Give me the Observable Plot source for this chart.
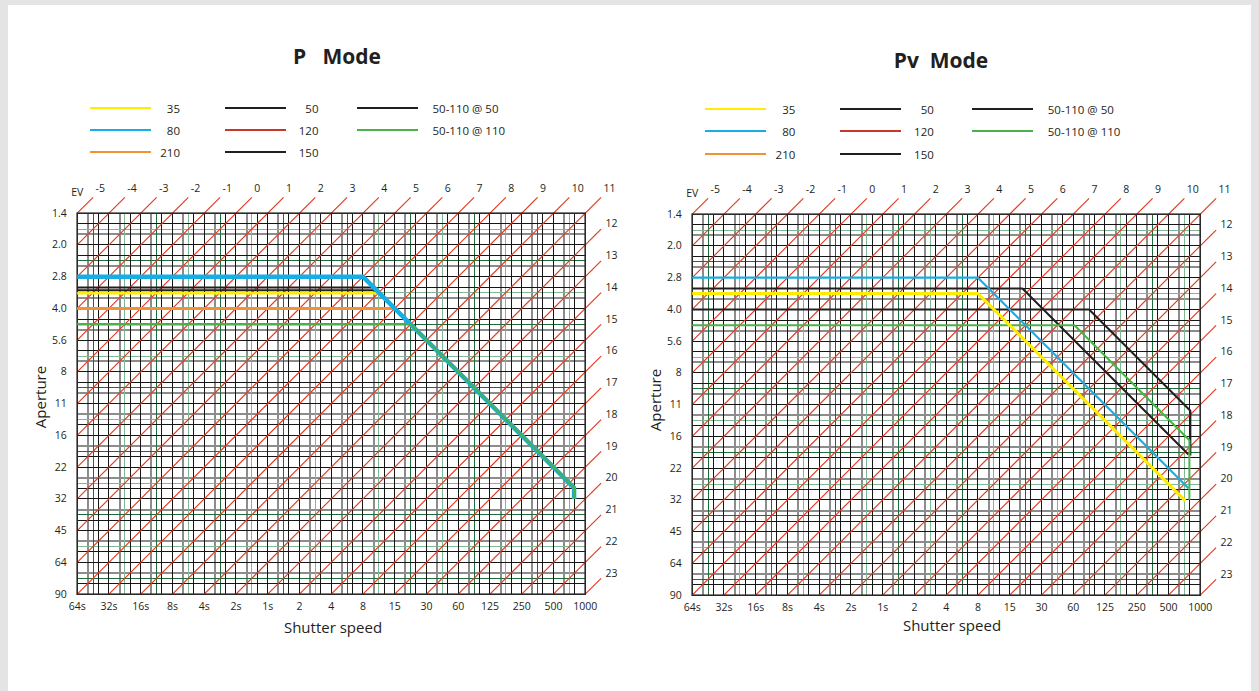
<!DOCTYPE html>
<html><head><meta charset="utf-8">
<script src="https://cdn.jsdelivr.net/npm/d3@7"></script>
<script src="https://cdn.jsdelivr.net/npm/@observablehq/plot@0.6"></script>
<style>
body{margin:0;width:1259px;height:691px;background:#e4e4e4;position:relative;overflow:hidden;font-family:"Open Sans",sans-serif;color:#231f20}
#card{position:absolute;left:8px;top:5px;width:1243px;height:686px;background:#fff}
.title{position:absolute;font-weight:700;font-size:21px;white-space:pre;transform:translate(-50%,-50%)}
.leg-line{position:absolute;height:2px}
.leg-label{position:absolute;font-size:11.5px;white-space:pre}
.axis-title{position:absolute;font-size:15px;white-space:nowrap;transform:translate(-50%,-50%)}
.axis-title.rot{transform:translate(-50%,-50%) rotate(-90deg)}
</style></head><body><div id="card"></div><div id="root"></div>
<script>
// ---------- data ----------
const apertureAv = [1,2,3,4,5,6,7,8,9,10,11,12,13];
const apertureLabels = ["1.4","2.0","2.8","4.0","5.6","8","11","16","22","32","45","64","90"];
const shutterTv = [-6,-5,-4,-3,-2,-1,0,1,2,3,4,5,6,7,8,9,10];
const shutterLabels = ["64s","32s","16s","8s","4s","2s","1s","2","4","8","15","30","60","125","250","500","1000"];
const evTop = [-5,-4,-3,-2,-1,0,1,2,3,4,5,6,7,8,9,10,11];
const evRight = [12,13,14,15,16,17,18,19,20,21,22,23];

const legendLabels = ["35","80","210","50","120","150","50-110 @ 50","50-110 @ 110"];
const legendColors = ["#ffed00","#17aee6","#f39233","#231f20","#c9372b","#231f20","#231f20","#4cb04a"];
const legendColumn = [0,0,0,1,1,1,2,2];
const legendRow = [0,1,2,0,1,2,0,1];

// program lines: vertices in (Tv, Av) stops
const pModeLines = [
  {lens:"210", stroke:"#f39233", width:3,   tv:[-6,4,9.65,9.65],       av:[4,4,9.65,10]},
  {lens:"35",  stroke:"#ffed00", width:2.5, tv:[-6,3.52,9.65,9.65],    av:[3.52,3.52,9.65,10]},
  {lens:"150", stroke:"#231f20", width:2,   tv:[-6,3.43,9.65,9.65],    av:[3.43,3.43,9.65,10]},
  {lens:"50",  stroke:"#231f20", width:2,   tv:[-6,3.34,9.65,9.65],    av:[3.34,3.34,9.65,10]},
  {lens:"80",  stroke:"#17aee6", width:4.5, tv:[-6,3,9.65,9.65],       av:[3,3,9.65,10]},
  {lens:"50-110 @ 110", stroke:"#4cb04a", width:2.5, tv:[-6,4.5,9.65,9.65], av:[4.5,4.5,9.65,10]}
];
const pvModeLines = [
  {lens:"50-110 @ 50",  stroke:"#231f20", width:2,   tv:[-6,6.5,9.69,9.69],  av:[4,4,7.19,8.6]},
  {lens:"50",           stroke:"#231f20", width:2,   tv:[-6,4.4,9.63],       av:[3.34,3.34,8.57]},
  {lens:"50-110 @ 110", stroke:"#4cb04a", width:2,   tv:[-6,6.04,9.66,9.66], av:[4.5,4.5,8.12,10]},
  {lens:"80",           stroke:"#17aee6", width:2.2, tv:[-6,3,9.63],         av:[3,3,9.63]},
  {lens:"35",           stroke:"#ffed00", width:3,   tv:[-6,3,9.53],         av:[3.5,3.5,10.03]}
];

// ---------- helpers ----------
const root = document.getElementById("root");
const apertureMap = new Map(apertureAv.map((v,i)=>[v, apertureLabels[i]]));
const shutterMap = new Map(shutterTv.map((v,i)=>[v, shutterLabels[i]]));

function div(cls, text, x, y, extra) {
  const d = document.createElement("div");
  d.className = cls;
  if (text != null) d.textContent = text;
  d.style.left = x + "px"; d.style.top = y + "px";
  if (extra) Object.assign(d.style, extra);
  root.appendChild(d);
  return d;
}

function buildLegend(ox, oy) {
  const lineX = [90, 225, 357], lineW = 61;
  const labelX = [180, 318.5, 432.5];
  const rowY = [107.7, 130, 152.3];
  legendLabels.forEach((lab, i) => {
    const c = legendColumn[i], r = legendRow[i];
    div("leg-line", null, lineX[c] + ox, rowY[r] + oy - 1, {width: lineW + "px", background: legendColors[i]});
    const t = div("leg-label", lab, labelX[c] + ox, rowY[r] + oy);
    t.style.transform = c < 2 ? "translate(-100%,-50%)" : "translate(0,-50%)";
  });
}

// grid structure (full, third and half stops)
function gridSets() {
  const vGray = [], vBlack = [], vGreenDark = [], vGreenLight = [];
  for (let k = 0; k < 16; k++) {
    const b = -6 + k;
    vGray.push(b + 1/3); vBlack.push(b + 2/3);
    (k % 2 === 0 ? vGreenDark : vGreenLight).push(b + 0.5);
  }
  const hGray = [], hBlack = [], hGreenDark = [], hGreenLight = [];
  for (let k = 0; k < 12; k++) {
    const b = 1 + k;
    if (k < 6) { hBlack.push(b + 1/3); hGray.push(b + 2/3); }
    else { hGray.push(b + 1/3); hBlack.push(b + 2/3); }
    (k % 2 === 0 ? hGreenLight : hGreenDark).push(b + 0.5);
  }
  return {vGray, vBlack, vGreenDark, vGreenLight, hGray, hBlack, hGreenDark, hGreenLight};
}

const evSegments = [...evTop, ...evRight].map(n => {
  const s = n <= 7 ? {tv:-6, av:n+6} : {tv:n-13, av:13};
  const e = n <= 11 ? {tv:n-0.5, av:0.5} : {tv:10.5, av:n-10.5};
  return {n, x1:s.tv, y1:s.av, x2:e.tv, y2:e.av};
});

function buildChart(lines, ox, oy) {
  const g = gridSets();
  const crisp = {shapeRendering: "crispEdges"};
  const vr = (data, stroke, w) => Plot.ruleX(data, {x: d=>d, y1: ()=>1, y2: ()=>13, stroke, strokeWidth: w, ...crisp});
  const hr = (data, stroke, w) => Plot.ruleY(data, {y: d=>d, x1: ()=>-6, x2: ()=>10, stroke, strokeWidth: w, ...crisp});
  const marks = [
    vr(g.vGray, "#8c8c8c", 2), hr(g.hGray, "#8c8c8c", 2),
    vr(g.vGreenLight, "#7fb893", 1), hr(g.hGreenLight, "#7fb893", 1),
    vr(g.vGreenDark, "#1f6b39", 1), hr(g.hGreenDark, "#1f6b39", 1),
    vr(g.vBlack, "#161616", 1), hr(g.hBlack, "#161616", 1),
    vr(shutterTv, "#161616", 1), hr(apertureAv, "#161616", 1),
    Plot.link(evSegments, {x1:"x1", y1:"y1", x2:"x2", y2:"y2", stroke:"#e43a20", strokeWidth:1.15}),
    Plot.frame({stroke:"#2a2a2a", strokeWidth:1.6}),
    ...lines.map(l => Plot.line(l.tv.map((t,i)=>({tv:t, av:l.av[i]})),
        {x:"tv", y:"av", stroke:l.stroke, strokeWidth:l.width, strokeLinejoin:"miter", strokeLinecap:"butt"})),
    Plot.text(evTop, {x: n=>n-0.5, y: ()=>0.5, text: n=>String(n), textAnchor:"start", dx:2.5, dy:-9, fill:"#231f20"}),
    Plot.text(evRight, {x: ()=>10.5, y: n=>n-10.5, text: n=>String(n), textAnchor:"start", dx:4.5, dy:-5, fill:"#231f20"}),
    Plot.text(["EV"], {frameAnchor:"top-left", dy:-25, textAnchor:"middle", fill:"#231f20"}),
    Plot.axisX({ticks: shutterTv, tickFormat: d=>shutterMap.get(d), tickSize:0, tickPadding:8.5, label:null, fill:"#231f20"}),
    Plot.axisY({ticks: apertureAv, tickFormat: d=>apertureMap.get(d), tickSize:0, tickPadding:10.5, label:null, fill:"#231f20"})
  ];
  const svg = Plot.plot({
    width: 640, height: 470,
    marginTop: 42.7, marginLeft: 76.7, marginRight: 55.3, marginBottom: 46.3,
    x: {domain:[-6,10]},
    y: {domain:[13,1]},
    style: {background:"transparent", overflow:"visible", fontFamily:"'Open Sans', sans-serif", fontSize:"10.5px", maxWidth:"none"},
    marks
  });
  svg.style.position = "absolute";
  svg.style.left = ox + "px";
  svg.style.top = (170 + oy) + "px";
  root.appendChild(svg);
}

// ---------- left: P Mode ----------
div("title", "P   Mode", 337, 56);
buildLegend(0, 0);
buildChart(pModeLines, 0, 0);
div("axis-title rot", "Aperture", 40, 397);
div("axis-title", "Shutter speed", 333, 627);

// ---------- right: Pv Mode ----------
div("title", "Pv  Mode", 941, 60);
buildLegend(615.3, 1.3);
buildChart(pvModeLines, 615.3, 1.3);
div("axis-title rot", "Aperture", 655, 400);
div("axis-title", "Shutter speed", 952, 625);
</script></body></html>
